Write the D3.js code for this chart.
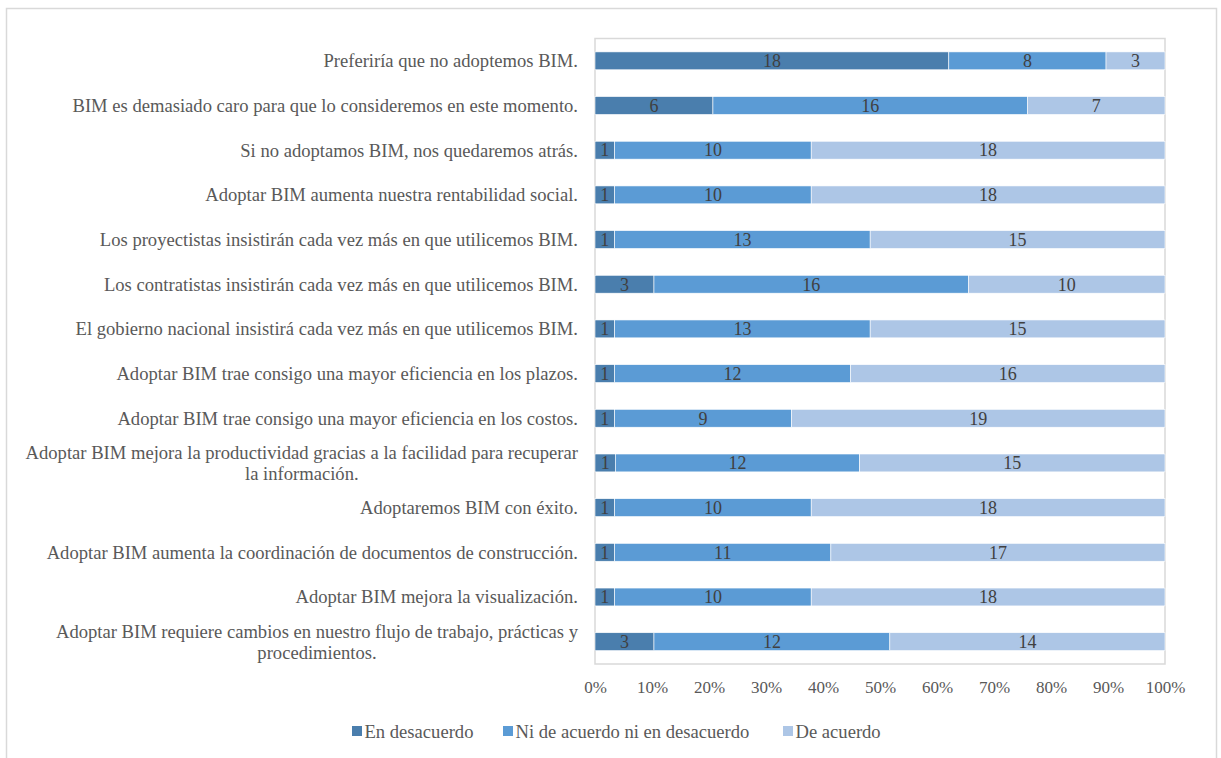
<!DOCTYPE html>
<html>
<head>
<meta charset="utf-8">
<script src="https://cdn.jsdelivr.net/npm/d3@7"></script>
<style>
  html, body { margin: 0; padding: 0; background: #fff; }
  svg { display: block; }
  text { font-family: "Liberation Serif", "Times New Roman", serif; fill: #595959; }
</style>
</head>
<body>
<svg id="chart" width="1221" height="758"></svg>
<script>
// Statements (top to bottom); "|" marks a line break
const categories = [
  "Preferiría que no adoptemos BIM.",
  "BIM es demasiado caro para que lo consideremos en este momento.",
  "Si no adoptamos BIM, nos quedaremos atrás.",
  "Adoptar BIM aumenta nuestra rentabilidad social.",
  "Los proyectistas insistirán cada vez más en que utilicemos BIM.",
  "Los contratistas insistirán cada vez más en que utilicemos BIM.",
  "El gobierno nacional insistirá cada vez más en que utilicemos BIM.",
  "Adoptar BIM trae consigo una mayor eficiencia en los plazos.",
  "Adoptar BIM trae consigo una mayor eficiencia en los costos.",
  "Adoptar BIM mejora la productividad gracias a la facilidad para recuperar|la información.",
  "Adoptaremos BIM con éxito.",
  "Adoptar BIM aumenta la coordinación de documentos de construcción.",
  "Adoptar BIM mejora la visualización.",
  "Adoptar BIM requiere cambios en nuestro flujo de trabajo, prácticas y|procedimientos."
];
const seriesNames = ["En desacuerdo", "Ni de acuerdo ni en desacuerdo", "De acuerdo"];
const enDesacuerdo = [18, 6, 1, 1, 1, 3, 1, 1, 1, 1, 1, 1, 1, 3];
const neutral      = [8, 16, 10, 10, 13, 16, 13, 12, 9, 12, 10, 11, 10, 12];
const deAcuerdo    = [3, 7, 18, 18, 15, 10, 15, 16, 19, 15, 18, 17, 18, 14];
const tickValues = [0, 0.1, 0.2, 0.3, 0.4, 0.5, 0.6, 0.7, 0.8, 0.9, 1];
const colors = ["#4a7ead", "#5b9bd5", "#adc6e6"];

const labelSize = "18.6px";
const valueSize = "18px";
const tickSize = "17px";

const svg = d3.select("#chart");

// chart outer frame
svg.append("rect").attr("x", 6.5).attr("y", 8.5).attr("width", 1210).attr("height", 760)
  .attr("fill", "none").attr("stroke", "#d9d9d9").attr("stroke-width", 1.5);

const plot = { left: 595, right: 1165, top: 38.5, bottom: 664 };

const x = d3.scaleLinear().domain([0, 1]).range([plot.left, plot.right]);
const y = d3.scaleBand().domain(d3.range(categories.length))
  .range([plot.top, plot.bottom]).paddingInner(0.6).paddingOuter(0.3);

// plot area frame
svg.append("rect")
  .attr("x", plot.left).attr("y", plot.top)
  .attr("width", plot.right - plot.left).attr("height", plot.bottom - plot.top)
  .attr("fill", "none").attr("stroke", "#d9d9d9").attr("stroke-width", 1.5);

const rows = categories.map((c, i) => {
  const vals = [enDesacuerdo[i], neutral[i], deAcuerdo[i]];
  const total = d3.sum(vals);
  let acc = 0;
  return vals.map((v, k) => {
    const seg = { row: i, k, v, x0: acc / total, x1: (acc + v) / total };
    acc += v;
    return seg;
  });
}).flat();

const g = svg.append("g");
g.selectAll("rect.seg").data(rows).join("rect")
  .attr("class", "seg")
  .attr("x", d => x(d.x0))
  .attr("y", d => y(d.row))
  .attr("width", d => x(d.x1) - x(d.x0))
  .attr("height", y.bandwidth())
  .attr("fill", d => colors[d.k])
  .attr("stroke", "#ffffff").attr("stroke-width", 0.6);

g.selectAll("text.val").data(rows).join("text")
  .attr("class", "val")
  .attr("x", d => (x(d.x0) + x(d.x1)) / 2)
  .attr("y", d => y(d.row) + y.bandwidth() / 2)
  .attr("dy", "0.35em")
  .attr("text-anchor", "middle")
  .style("font-size", valueSize)
  .style("fill", "#404040")
  .text(d => d.v);

// category labels (multi-line labels centered on their first line)
const labelRight = 578;
categories.forEach((c, i) => {
  const lines = c.split("|");
  const cy = y(i) + y.bandwidth() / 2;
  const lh = 21;
  if (lines.length === 1) {
    svg.append("text")
      .attr("x", labelRight).attr("y", cy).attr("dy", "0.35em")
      .attr("text-anchor", "end")
      .style("font-size", labelSize)
      .text(lines[0]);
  } else {
    const tmp = svg.append("text").style("font-size", labelSize).text(lines[0]);
    const w = tmp.node().getComputedTextLength();
    tmp.remove();
    const cx = labelRight - w / 2;
    lines.forEach((ln, j) => {
      svg.append("text")
        .attr("x", cx)
        .attr("y", cy + (j - (lines.length - 1) / 2) * lh)
        .attr("dy", "0.35em")
        .attr("text-anchor", "middle")
        .style("font-size", labelSize)
        .text(ln);
    });
  }
});

// x axis tick labels
const xAxis = d3.axisBottom(x).tickValues(tickValues).tickFormat(d3.format(".0%"))
  .tickSize(0).tickPadding(0);
const ax = svg.append("g").attr("transform", `translate(0, ${plot.bottom + 17})`).call(xAxis);
ax.select(".domain").remove();
ax.selectAll("text")
  .style("font-family", "\"Liberation Serif\", \"Times New Roman\", serif")
  .style("font-size", tickSize).style("fill", "#595959");

// legend
const legendX = [352, 503, 783];
const legend = svg.append("g");
seriesNames.forEach((s, k) => {
  legend.append("rect").attr("x", legendX[k]).attr("y", 726).attr("width", 10).attr("height", 10)
    .attr("fill", colors[k]);
  legend.append("text").attr("x", legendX[k] + 12.5).attr("y", 731).attr("dy", "0.35em")
    .style("font-size", labelSize).text(s);
});
</script>
</body>
</html>
